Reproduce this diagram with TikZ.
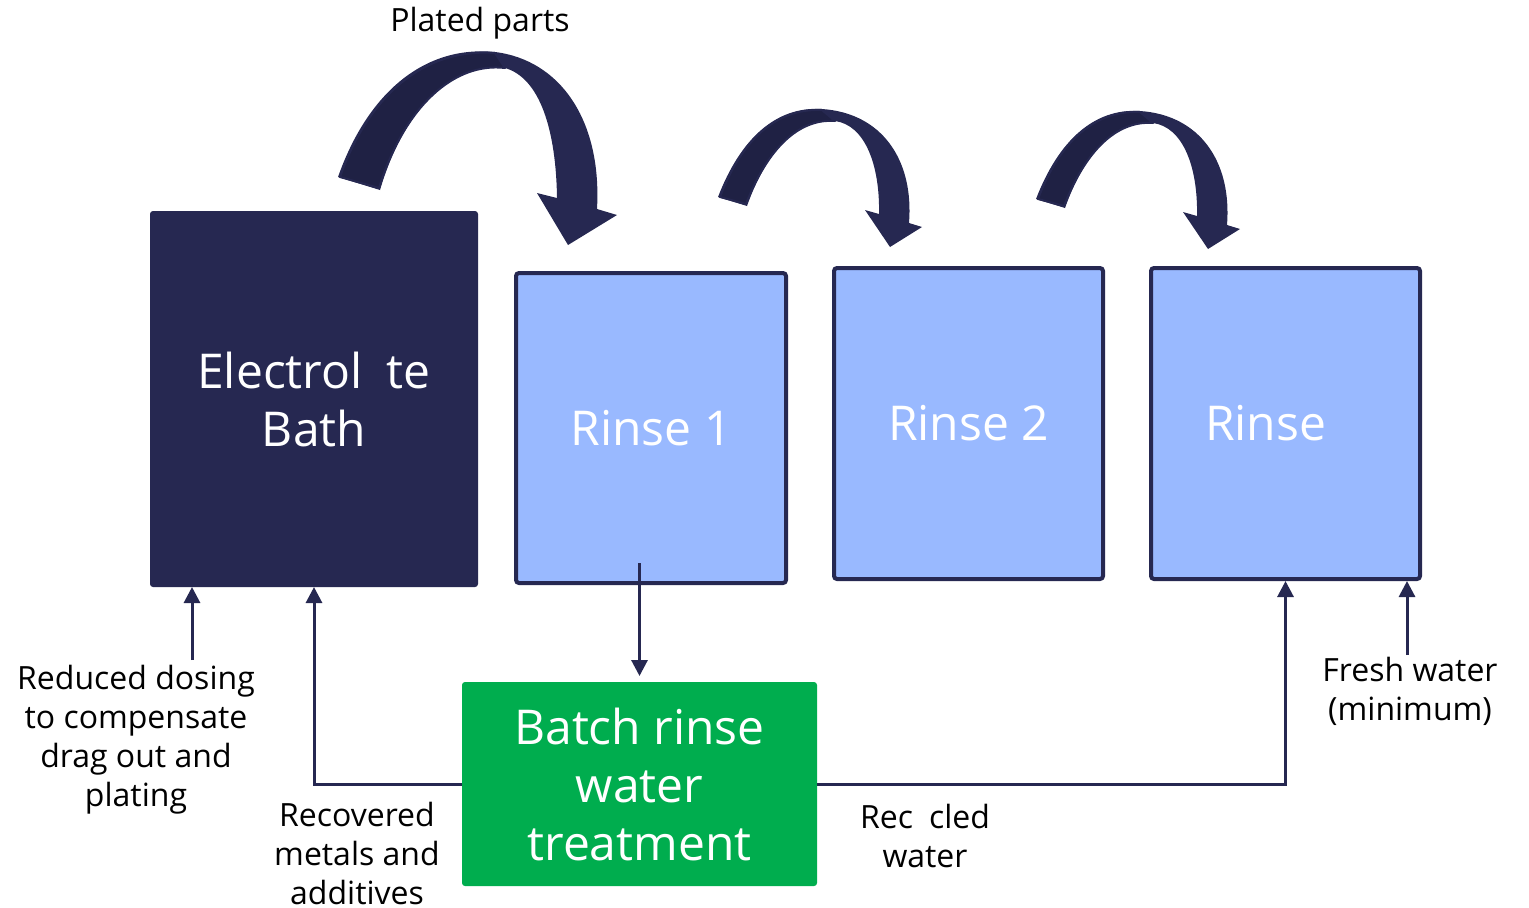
\documentclass[tikz,border=0pt]{standalone}
\usepackage{fontspec}
\setmainfont{Open Sans}
\usetikzlibrary{arrows.meta,calc}
\definecolor{navy}{HTML}{262851}
\definecolor{navydark}{HTML}{1F2144}
\definecolor{rinseblue}{HTML}{99B9FF}
\definecolor{batchgreen}{HTML}{00AD4E}
\tikzset{
  tank/.style={draw=navy, line width=2pt, fill=rinseblue, rounded corners=1.5pt, inner sep=0pt, outer sep=0pt,
    text=white, font=\fontsize{24}{29}\selectfont, align=center},
  bigtext/.style={text=white, font=\fontsize{24}{29}\selectfont, align=center},
  lbl/.style={font=\fontsize{16}{19.5}\selectfont, align=center, text=black, inner sep=0pt},
  flow/.style={draw=navy, line width=1.5pt, -{Triangle[width=8pt,length=8pt]}},
  bandarrow/.style={fill=navy},
  bandleft/.style={fill=navydark, draw=navy, line width=1pt, line join=round}
}
\begin{document}
\begin{tikzpicture}[x=0.5pt,y=-0.5pt]
\useasboundingbox (0,0) rectangle (1529,907);

% tanks
\node[fill=navy, rounded corners=1.5pt, minimum width=164pt, minimum height=188pt, inner sep=0pt, outer sep=0pt, bigtext] (eb) at (314,399) {Electrol\phantom{y}te\\Bath};
\node[tank, minimum width=135pt, minimum height=155pt] (r1) at (651,428) {Rinse 1};
\node[tank, minimum width=134.5pt, minimum height=155.5pt] (r2) at (968.5,423.5) {Rinse 2};
\node[tank, minimum width=134.5pt, minimum height=155.5pt] (r3) at (1285.5,423.5) {Rinse\phantom{ 3}};
\node[fill=batchgreen, rounded corners=1.5pt, minimum width=177.5pt, minimum height=102pt, inner sep=0pt, outer sep=0pt, bigtext] (batch) at (639.5,784) {Batch rinse\\water\\treatment};

% big curved arrow
\fill[bandarrow] (338,177) .. controls (368,92) and (425,45) .. (495,52) .. controls (560,60) and (602,120) .. (597,209) -- (617,215) -- (568,245) -- (537,193) -- (557,198) .. controls (556,130) and (540,78) .. (505,68) .. controls (455,62) and (405,105) .. (380,190) -- cycle;
\path[bandleft] (340,177) .. controls (369,94) and (425,48) .. (495,53) -- (505,68) .. controls (455,62) and (405,105) .. (379,188) -- cycle;

% medium curved arrows
\foreach \dx/\dy in {0/0, 318/2}{
\begin{scope}[shift={(\dx,\dy)}]
\fill[bandarrow] (718,197) .. controls (740,140) and (775,106) .. (822,109) .. controls (882,113) and (914,160) .. (909,223) -- (922,227) -- (890,247) -- (865,210) -- (879,214) .. controls (880,165) and (865,125) .. (835,121) .. controls (795,118) and (765,155) .. (747,206) -- cycle;
\path[bandleft] (720,197) .. controls (741,141) and (775,108) .. (822,110) -- (835,121) .. controls (795,118) and (765,155) .. (746,204) -- cycle;
\end{scope}}

% labels
\node[lbl] (plated) at (480,23) {Plated parts};
\node[lbl] (dose) at (136,740) {Reduced dosing\\to compensate\\drag out and\\plating};
\node[lbl] (recov) at (357,853) {Recovered\\metals and\\additives};
\node[lbl] (recyc) at (925,836) {Rec\phantom{y}cled\\water};
\node[lbl] (fresh) at (1410,691) {Fresh water\\(minimum)};

% connectors
\coordinate (r1out) at (639.5,563);
\coordinate (dosein) at (192,660);
\coordinate (freshin) at (1407,655);
\draw[flow, shorten >=3pt] (r1out) -- (r1out |- batch.north);
\draw[flow] (dosein) -- (dosein |- eb.south);
\draw[flow] (batch.west) -| (eb.south);
\draw[flow] (batch.east) -| ([yshift=-1pt]r3.south);
\draw[flow] (freshin) -- ([yshift=-1pt]freshin |- r3.south);
\end{tikzpicture}
\end{document}
